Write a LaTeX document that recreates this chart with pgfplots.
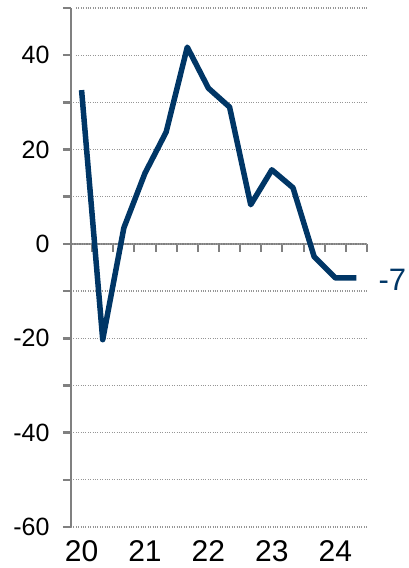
\documentclass[border=0pt]{standalone}
\usepackage{pgfplots}
\pgfplotsset{compat=1.18}
\usepackage{fontspec}
\setmainfont{Liberation Sans}
\definecolor{navy}{RGB}{0,54,102}
\definecolor{axgray}{RGB}{128,128,128}
\definecolor{gridgray}{RGB}{150,150,150}
\begin{document}
\begin{tikzpicture}
\useasboundingbox (-71pt,-41pt) rectangle (337pt,527pt);
% zero line with quarterly ticks
\begin{axis}[at={(0,0)}, anchor=south west, scale only axis, width=296pt, height=519pt,
 xmin=-0.5, xmax=13.5, ymin=-60, ymax=50,
 axis x line=middle, axis y line=none,
 x axis line style={axgray, line width=2.5pt, -},
 xtick={0.5,1.5,...,13.5}, xticklabels={},
 tick align=outside, x tick style={axgray, line width=2pt}, major tick length=8pt,
]
\end{axis}
\begin{axis}[at={(0,0)}, anchor=south west, scale only axis, width=296pt, height=519pt,
 xmin=-0.5, xmax=13.5, ymin=-60, ymax=50,
 axis x line*=bottom, axis y line*=left,
 x axis line style={draw=none},
 y axis line style={axgray, line width=2.5pt, -},
 xtick={0,3,6,9,12}, xticklabels={20,21,22,23,24},
 major x tick style={draw=none},
 xticklabel style={font=\fontsize{30}{34}\selectfont, inner sep=2pt, yshift=-3pt},
 ytick={-60,-40,...,40}, minor ytick={-50,-30,...,50},
 yticklabel style={font=\fontsize{25}{30}\selectfont, xshift=-10pt},
 y tick style={axgray, line width=2.5pt},
 tick align=outside, major tick length=8pt, minor tick length=8pt,
 ymajorgrids, yminorgrids,
 major grid style={gridgray, dotted, line width=1.3pt, shorten <=5pt},
 minor grid style={gridgray, dotted, line width=1.3pt, shorten <=5pt},
 /pgf/number format/assume math mode=true,
 clip=false,
]
\addplot[navy, line width=5.5pt, line join=round] coordinates {
(0,32.6) (1,-20.3) (2,3.4) (3,15) (4,23.7) (5,41.7) (6,33) (7,29) (8,8.3) (9,15.7) (10,11.9) (11,-2.7) (12,-7.2) (13,-7.2)
};
\node[anchor=west, text=navy, font=\fontsize{31}{36}\selectfont, xshift=8pt, yshift=-3pt] at (axis cs:13.5,-7) {-7};
\end{axis}
\end{tikzpicture}
\end{document}
